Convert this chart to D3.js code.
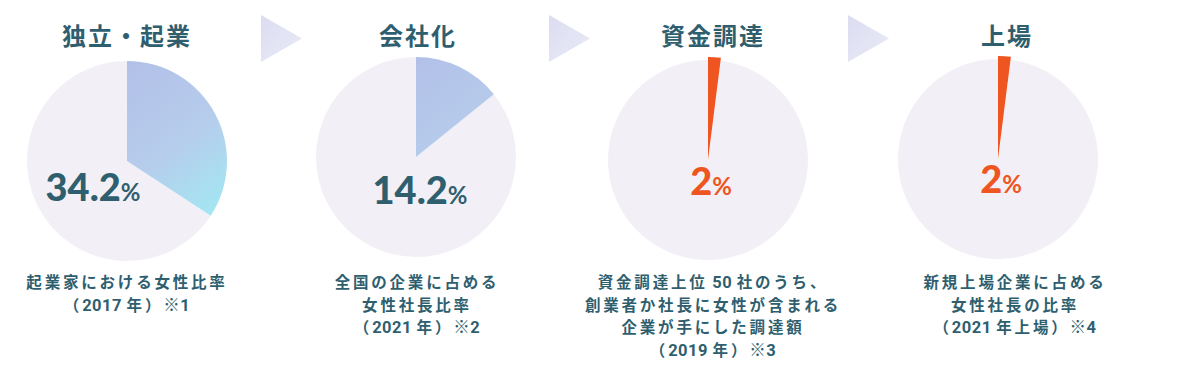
<!DOCTYPE html>
<html><head><meta charset="utf-8">
<script src="https://cdn.jsdelivr.net/npm/d3@7"></script>
<style>
html,body{margin:0;padding:0;background:#fff;}
svg{display:block;}
text{font-family:"Noto Sans CJK JP","Noto Sans",sans-serif;font-weight:700;}
</style></head>
<body>
<svg id="chart" width="1200" height="386"></svg>
<script>
// ---- data ----
const titles = ["独立・起業", "会社化", "資金調達", "上場"];
const values = [34.2, 14.2, 2, 2];
const valueLabels = ["34.2", "14.2", "2", "2"];
const captions = [
  ["起業家における女性比率", "（2017 年）※1"],
  ["全国の企業に占める", "女性社長比率", "（2021 年）※2"],
  ["資金調達上位 50 社のうち、", "創業者か社長に女性が含まれる", "企業が手にした調達額", "（2019 年）※3"],
  ["新規上場企業に占める", "女性社長の比率", "（2021 年上場）※4"]
];
const highlight = [false, false, true, true];

// ---- layout ----
const cx = [127, 416, 708, 998];
const cy = [161, 157, 160, 159];
const titleX = [127, 418, 713, 1007];
const captionX = [127, 417, 713, 1015];
const labelDX = [-34, 4, 3, 3];
const labelY = [201, 204, 195, 193];
const arrowX = [261, 549, 848];
const R = 100;
const teal = "#2f5f6f", orange = "#ee5520", rest = "#f2f0f6";

const svg = d3.select("#chart");
const defs = svg.append("defs");

const agrad = defs.append("linearGradient").attr("id", "ga")
  .attr("x1", "0%").attr("y1", "0%").attr("x2", "100%").attr("y2", "100%");
agrad.append("stop").attr("offset", "0%").attr("stop-color", "#dcdcf1");
agrad.append("stop").attr("offset", "100%").attr("stop-color", "#e9ebf6");

// arrows
const arrowW = 41, arrowH = 47, arrowTop = 15;
svg.selectAll("path.arrow").data(arrowX).join("path")
  .attr("class", "arrow")
  .attr("d", x => `M${x},${arrowTop} L${x + arrowW},${arrowTop + arrowH / 2} L${x},${arrowTop + arrowH} Z`)
  .attr("fill", "url(#ga)");

const pie = d3.pie().sort(null).value(d => d);

values.forEach((v, i) => {
  const g = svg.append("g").attr("transform", `translate(${cx[i]},${cy[i]})`);
  const arcs = pie([v, 100 - v]);
  const arcMain = d3.arc().innerRadius(0).outerRadius(R);
  const arcHi = d3.arc().innerRadius(0).outerRadius(highlight[i] ? R + 3 : R);
  g.append("path").attr("d", arcMain(arcs[1])).attr("fill", rest);
  const gid = "gs" + i;
  if (!highlight[i]) {
    const lg = defs.append("linearGradient").attr("id", gid)
      .attr("gradientUnits", "userSpaceOnUse")
      .attr("x1", -10).attr("y1", -R)
      .attr("x2", R).attr("y2", 50);
    lg.append("stop").attr("offset", "0%").attr("stop-color", "#b2bfe8");
    lg.append("stop").attr("offset", "55%").attr("stop-color", "#b6cdec");
    lg.append("stop").attr("offset", "100%").attr("stop-color", "#a2e8f3");
  }
  g.append("path").attr("d", arcHi(arcs[0]))
    .attr("fill", highlight[i] ? orange : `url(#${gid})`);

  svg.append("text").attr("x", titleX[i]).attr("y", 45)
    .attr("text-anchor", "middle").attr("font-size", 24)
    .attr("letter-spacing", 2).attr("fill", teal).text(titles[i]);

  const col = highlight[i] ? orange : teal;
  const t = svg.append("text").attr("x", cx[i] + labelDX[i]).attr("y", labelY[i])
    .attr("text-anchor", "middle").attr("fill", col);
  t.append("tspan").attr("font-size", 38).attr("font-family", "Lato, 'Noto Sans', sans-serif")
    .attr("font-weight", 900).text(valueLabels[i]);
  t.append("tspan").attr("font-size", 24).attr("font-family", "Lato, 'Noto Sans', sans-serif")
    .attr("font-weight", 700).text("%");

  captions[i].forEach((line, k) => {
    const ct = svg.append("text").attr("text-anchor", "middle").attr("fill", teal)
      .attr("font-size", 15.5)
      .attr("x", captionX[i]).attr("y", 288 + k * 22.5);
    const runs = line.match(/[0-9 ※]+|[^0-9 ※]+/g);
    runs.forEach(r => {
      const ascii = /^[0-9 ※]+$/.test(r);
      ct.append("tspan")
        .attr("letter-spacing", ascii ? 0.5 : 2.8)
        .attr("font-size", ascii ? 16.5 : 15.5)
        .attr("font-family", ascii ? "Roboto, 'Noto Sans CJK JP', sans-serif" : null)
        .text(r);
    });
  });
});
</script>
</body></html>
